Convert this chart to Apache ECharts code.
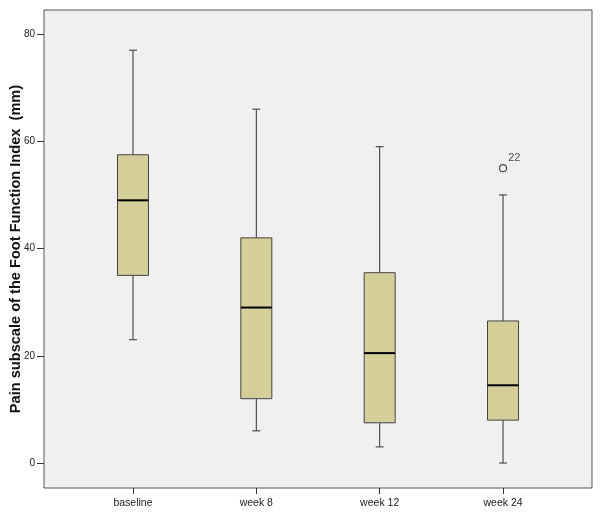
<!DOCTYPE html>
<html><head><meta charset="utf-8">
<script src="https://cdn.jsdelivr.net/npm/echarts@6/dist/echarts.min.js"></script>
<style>html,body{margin:0;padding:0;background:#fff}#c{width:600px;height:516px}</style>
</head><body><div id="c"></div>
<script>
const categories = ['baseline', 'week 8', 'week 12', 'week 24'];
// [min, Q1, median, Q3, max]
const boxStats = [
  [23, 35, 49, 57.5, 77],
  [6, 12, 29, 42, 66],
  [3, 7.5, 20.5, 35.5, 59],
  [0, 8, 14.5, 26.5, 50]
];
const outliers = [[3, 55, '22']];
const yTicks = [0, 20, 40, 60, 80];
const yMin = -4.66, yMax = 84.5;
const yName = 'Pain subscale of the Foot Function Index  (mm)';

const FONT = 'Arial, "Liberation Sans", sans-serif';
const chart = echarts.init(document.getElementById('c'), null, {renderer: 'canvas'});
const boxData = boxStats.map((s, i) => [i].concat(s));

chart.setOption({
  animation: false,
  backgroundColor: '#ffffff',
  grid: [
    {left: 44, right: 8, top: 10, bottom: 28, containLabel: false, outerBoundsMode: 'none',
     show: true, backgroundColor: '#f0f0f0', borderColor: '#555555', borderWidth: 1},
    {left: 71.3, right: 35.3, top: 10, bottom: 28, containLabel: false, outerBoundsMode: 'none'}
  ],
  xAxis: [
    {type: 'value', gridIndex: 0, show: false, min: 0, max: 1},
    {type: 'category', gridIndex: 1, data: categories, boundaryGap: true, position: 'bottom',
     axisLine: {show: false, onZero: false},
     axisTick: {show: true, alignWithLabel: true, length: 6, lineStyle: {color: '#333', width: 1}},
     axisLabel: {color: '#222', fontSize: 10.5, fontFamily: FONT, margin: 10}}
  ],
  yAxis: [
    {type: 'value', gridIndex: 0, min: yMin, max: yMax,
     name: yName, nameLocation: 'middle', nameGap: 21, nameMoveOverlap: false,
     nameTextStyle: {fontSize: 14.6, fontWeight: 'bold', color: '#111', fontFamily: FONT},
     axisLine: {show: false}, splitLine: {show: false},
     axisTick: {show: true, length: 7, customValues: yTicks, lineStyle: {color: '#333'}},
     axisLabel: {customValues: yTicks, color: '#222', fontSize: 10, fontFamily: FONT, margin: 9}},
    {type: 'value', gridIndex: 1, min: yMin, max: yMax, show: false}
  ],
  series: [
    {
      type: 'custom', xAxisIndex: 1, yAxisIndex: 1, data: boxData,
      renderItem: function (params, api) {
        const x = api.value(0);
        const p = k => api.coord([x, api.value(k)]);
        const pMin = p(1), pQ1 = p(2), pMed = p(3), pQ3 = p(4), pMax = p(5);
        const cx = pMin[0];
        const hw = 15.5, cap = 4;
        const ls = {stroke: '#333333', lineWidth: 1};
        return {
          type: 'group',
          children: [
            {type: 'line', shape: {x1: cx, y1: pMax[1], x2: cx, y2: pQ3[1]}, style: ls},
            {type: 'line', shape: {x1: cx, y1: pQ1[1], x2: cx, y2: pMin[1]}, style: ls},
            {type: 'line', shape: {x1: cx - cap, y1: pMax[1], x2: cx + cap, y2: pMax[1]}, style: ls},
            {type: 'line', shape: {x1: cx - cap, y1: pMin[1], x2: cx + cap, y2: pMin[1]}, style: ls},
            {type: 'rect', shape: {x: cx - hw, y: pQ3[1], width: 2 * hw, height: pQ1[1] - pQ3[1]},
             style: {fill: '#d4cf98', stroke: '#444444', lineWidth: 1}},
            {type: 'line', shape: {x1: cx - hw, y1: pMed[1], x2: cx + hw, y2: pMed[1]},
             style: {stroke: '#000000', lineWidth: 2}}
          ]
        };
      }
    },
    {
      type: 'scatter', xAxisIndex: 1, yAxisIndex: 1,
      data: outliers.map(o => ({value: [o[0], o[1]], name: o[2]})),
      symbol: 'circle', symbolSize: 7,
      itemStyle: {color: 'rgba(0,0,0,0)', borderColor: '#222', borderWidth: 1.2},
      label: {show: true, formatter: d => d.name, position: 'right', offset: [-4, -10],
              color: '#222', fontSize: 11, fontFamily: FONT}
    }
  ]
});
</script></body></html>
